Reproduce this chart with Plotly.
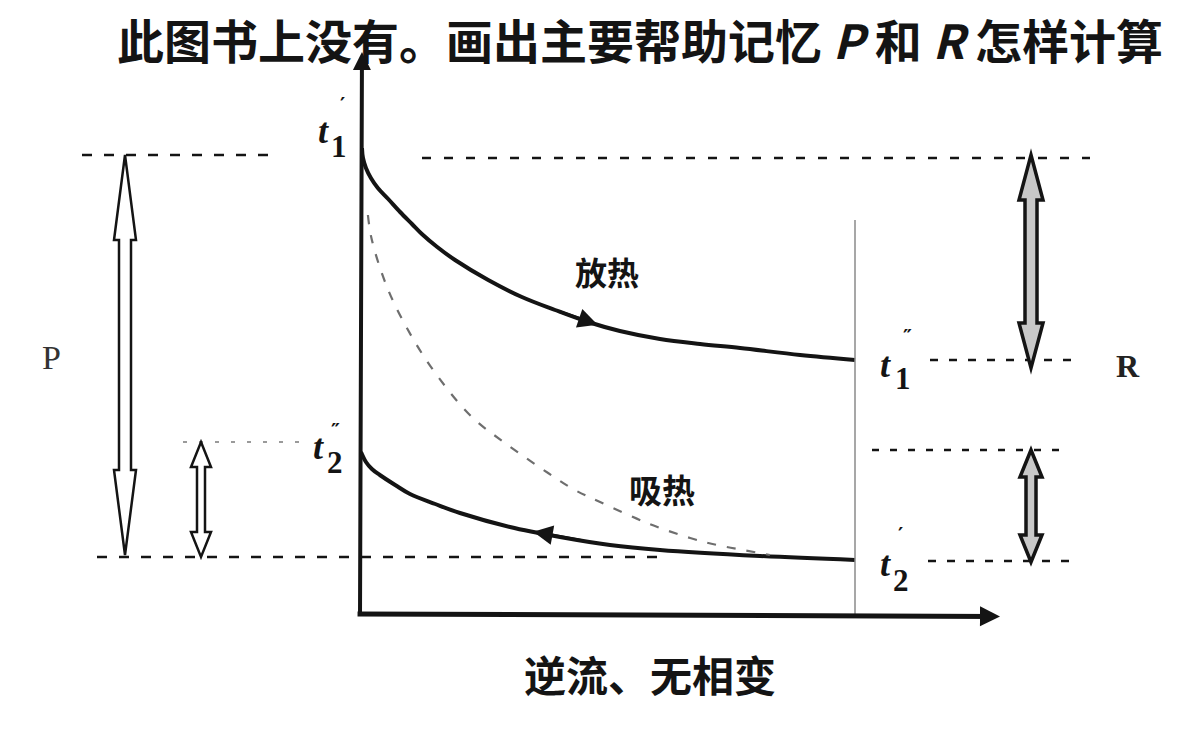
import numpy as np
import plotly.graph_objects as go

# ---------------- data (diagram units: x = fraction of exchanger length, T = temperature) ----
HOT_X = [0.004, 0.006, 0.012, 0.022, 0.036, 0.057, 0.081, 0.105, 0.125, 0.156, 0.192, 0.259, 0.327, 0.394,
         0.461, 0.525, 0.606, 0.687, 0.768, 0.889, 1.0]
HOT_T = [116.5, 114, 111.5, 109, 106.5, 103.75, 100.5, 97.5, 95, 91.75, 88.5, 83.5, 79.25, 76,
         73, 70.75, 68.75, 67.5, 66.5, 64.75, 63.5]

COLD_X = [0.002, 0.012, 0.024, 0.040, 0.071, 0.101, 0.152, 0.202, 0.303, 0.404, 0.505, 0.606, 0.808, 1.0]
COLD_T = [40.5, 38, 36.25, 34.75, 32.25, 30, 27.5, 25.25, 21.75, 19.25, 17.25, 16, 14.5, 13.5]

REF_X = [0.016, 0.024, 0.057, 0.105, 0.158, 0.226, 0.293, 0.38, 0.434, 0.485, 0.58, 0.667, 0.721, 0.774, 0.828]
REF_T = [99.75, 93.5, 81, 69.25, 59.25, 49.25, 42.75, 35.25, 31, 28, 22.75, 19, 17.25, 16, 14.75]

T1_IN, T1_OUT, T2_OUT, T2_IN = 114, 63.5, 42.5, 13.5
LENGTH = 1.0

TITLE = "此图书上没有。画出主要帮助记忆 <i>P</i> 和 <i>R</i> 怎样计算"
XLABEL = "逆流、无相变"
HOT_LABEL, COLD_LABEL = "放热", "吸热"
T_LABELS = [("1", "′"), ("1", "″"), ("2", "″"), ("2", "′")]  # t1', t1'', t2'', t2'

# ---------------- layout helpers ----------------
W, H = 1198, 729
X0PX, XS = 360, 495.0   # pixel of x=0, pixels per x unit
Y0PX, YS = 614, 4.0     # pixel of T=0, pixels per T unit


def dx(px):
    return px / XS


def dy(py):
    return py / YS


def xd(px):  # absolute pixel -> data x
    return (px - X0PX) / XS


INK = "#141414"
fig = go.Figure()

fig.add_trace(go.Scatter(x=HOT_X, y=HOT_T, mode="lines", line=dict(color=INK, width=4, shape="spline", smoothing=1.0), hoverinfo="skip"))
fig.add_trace(go.Scatter(x=COLD_X, y=COLD_T, mode="lines", line=dict(color=INK, width=4, shape="spline", smoothing=1.0), hoverinfo="skip"))
fig.add_trace(go.Scatter(x=REF_X, y=REF_T, mode="lines", line=dict(color="#6e6e6e", width=2.2, dash="9px,11px", shape="spline", smoothing=1.0), hoverinfo="skip"))

shapes = []


def hline(y, xpx0, xpx1, color=INK, width=2.5, dash="10px,12px"):
    shapes.append(dict(type="line", x0=xd(xpx0), x1=xd(xpx1), y0=y, y1=y, line=dict(color=color, width=width, dash=dash)))


hline(T1_IN + 0.75, 82, 270)
hline(T1_IN, 422, 1090, dash="9px,13px")
hline(T1_OUT, 930, 1072, dash="8px,11px")
hline(T2_OUT + 0.5, 183, 300, color="#9a9a9a", width=2, dash="4px,12px")
hline(T2_OUT - 1.5, 872, 1070, dash="7px,11px")
hline(T2_IN + 0.75, 97, 668, dash="10px,12px")
hline(T2_IN - 0.25, 928, 1070, dash="8px,11px")

# thin outlet line at x = L
shapes.append(dict(type="line", x0=LENGTH, x1=LENGTH, y0=dy(614 - 220), y1=-0.5, line=dict(color="#8a8a8a", width=1.5)))


def double_arrow(xc, y_top, y_bot, shaft_px, head_px, head_len_px, line_w, fill):
    sw, hw, hl = dx(shaft_px), dx(head_px), dy(head_len_px)
    pts = [(xc, y_top), (xc + hw, y_top - hl), (xc + sw, y_top - hl), (xc + sw, y_bot + hl),
           (xc + hw, y_bot + hl), (xc, y_bot), (xc - hw, y_bot + hl), (xc - sw, y_bot + hl),
           (xc - sw, y_top - hl), (xc - hw, y_top - hl)]
    path = "M " + " L ".join(f"{x:.5f},{y:.4f}" for x, y in pts) + " Z"
    shapes.append(dict(type="path", path=path, fillcolor=fill, line=dict(color=INK, width=line_w)))


double_arrow(xd(125), T1_IN + 0.75, T2_IN + 1.25, 6, 11, 85, 2.5, "white")
double_arrow(xd(201), T2_OUT + 0.5, T2_IN + 0.75, 4, 10, 25, 2.5, "white")
double_arrow(xd(1031), T1_IN + 0.75, T1_OUT - 2, 6, 12, 45, 3.5, "#c8c8c8")
double_arrow(xd(1031), T2_OUT - 1.5, T2_IN - 0.5, 5, 11, 27, 3.5, "#c8c8c8")

annotations = []

# axes with arrows
annotations.append(dict(x=0.004, y=dy(614 - 52), ax=0, ay=-0.5, xref="x", yref="y", axref="x", ayref="y",
                        text="", showarrow=True, arrowhead=2, arrowsize=0.9, arrowwidth=4, arrowcolor=INK))
annotations.append(dict(x=xd(1000), y=-0.6, ax=-0.008, ay=0, xref="x", yref="y", axref="x", ayref="y",
                        text="", showarrow=True, arrowhead=2, arrowsize=0.8, arrowwidth=5, arrowcolor=INK))

# flow-direction arrows on the curves
for xs_, ts_, tip, tail in [(HOT_X, HOT_T, 0.48, 0.40), (COLD_X, COLD_T, 0.35, 0.45)]:
    annotations.append(dict(x=tip, y=float(np.interp(tip, xs_, ts_)), ax=tail, ay=float(np.interp(tail, xs_, ts_)),
                            xref="x", yref="y", axref="x", ayref="y", text="", showarrow=True,
                            arrowhead=2, arrowsize=1.3, arrowwidth=3, arrowcolor=INK))


def label(text, px, py, size, family="Noto Sans CJK SC", color=INK):
    annotations.append(dict(x=px / W, y=1 - py / H, xref="paper", yref="paper", text=text, showarrow=False,
                            xanchor="center", yanchor="middle", font=dict(size=size, family=family, color=color)))


CJK = "Noto Sans CJK SC"
SERIF = "Liberation Serif"
label(f"<b>{TITLE}</b>", 640, 38, 47, CJK)
label(f"<b>{XLABEL}</b>", 650, 673, 42, CJK)
label(f"<b>{HOT_LABEL}</b>", 607, 271, 32, CJK)
label(f"<b>{COLD_LABEL}</b>", 662, 489, 33, CJK)
label("P", 51, 357, 34, SERIF, "#333")
label("<b>R</b>", 1128, 366, 32, SERIF, "#222")

# temperature labels: t with subscript and prime marks
POS = [(323, 131, 339, 147, 342, 104),
       (885, 365, 903, 378, 907, 336),
       (318, 447, 335, 462, 335, 430),
       (885, 564, 901, 580, 900, 534)]
for (sub, prime), (tx, ty, sx, sy, mx, my) in zip(T_LABELS, POS):
    label("<b><i>t</i></b>", tx, ty, 36, SERIF)
    label(f"<b>{sub}</b>", sx, sy, 31, SERIF)
    label(f"<b>{prime}</b>", mx, my, 20, "DejaVu Sans")

fig.update_layout(
    width=W, height=H, autosize=False,
    margin=dict(l=0, r=0, t=0, b=0),
    paper_bgcolor="white", plot_bgcolor="white",
    showlegend=False,
    xaxis=dict(range=[xd(0), xd(W)], visible=False, fixedrange=True),
    yaxis=dict(range=[-(H - Y0PX) / YS, Y0PX / YS], visible=False, fixedrange=True),
    shapes=shapes, annotations=annotations,
)

fig.write_html("out.html", config={"displayModeBar": False}, post_script="document.body.style.margin='0';")
